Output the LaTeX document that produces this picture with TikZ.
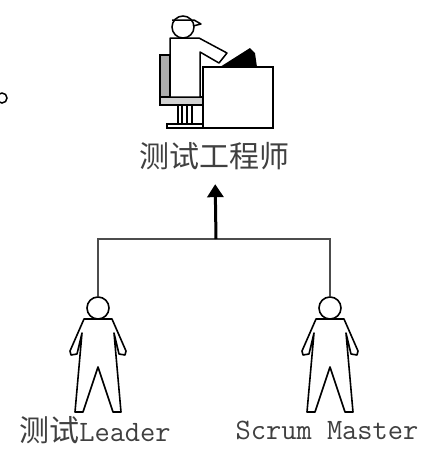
\documentclass[tikz,border=0pt]{standalone}
\usepackage{fontspec}
\usetikzlibrary{arrows.meta}
\newfontfamily\cjk{Noto Sans CJK SC}
\definecolor{chairgray}{rgb}{0.68,0.68,0.68}
\definecolor{seatgray}{rgb}{0.82,0.82,0.82}
\tikzset{
  head/.style={
    circle,
    draw,
    fill=white,
    inner sep=0pt,
    minimum size=11pt,
    line width=.8pt
  },
  outline/.style={
    line width=.8pt,
    line join=round,
    fill=white
  },
  furniture/.style={
    line width=.75pt,
    fill=white
  },
  label/.style={
    inner sep=0pt,
    text=black!75,
    font=\fontsize{15}{18}\selectfont
  },
  link/.style={
    line width=1pt,
    black!70
  },
  arrow/.style={
    -{Triangle[length=6.5pt,width=8pt]},
    line width=1.5pt,
    shorten >=7pt
  },
  person/.pic={
    \draw[outline] (-14,11) -- (-28,43) -- (-27,47) -- (-21,46) -- (-16,25)
      -- (-23,104) -- (-15,104) -- (0,59) -- (15,104) -- (23,104) -- (16,25)
      -- (21,46) -- (27,47) -- (28,43) -- (14,11) -- cycle;
    \node[head] (-head) at (0,0) {};
  }
}

\begin{document}
\begin{tikzpicture}[x=.5pt,y=-.5pt]
\useasboundingbox (0,0) rectangle (423,451);
\draw[line width=.75pt] (2,98) circle (5);

% tester at the desk
\draw[furniture,fill=chairgray] (160,55) rectangle (170,97);
\draw[furniture,fill=seatgray] (160,97) rectangle (206,105);
\draw[furniture] (178,105) rectangle (182,124) (187,105) rectangle (192,124);
\draw[furniture] (167,124) rectangle (206,128);
\draw[furniture,line join=round] (170,97) -- (170,38) -- (199,38) -- (227,53)
  -- (219,63) -- (200,52) -- (200,97) -- cycle;
\draw[furniture] (203,67) rectangle (273,128);
\fill (220,67) -- (250,48) -- (255,53) -- (257,67) -- cycle;
\draw[furniture] (183,27) circle (11);
\draw[furniture,fill=none,line join=round] (172,20) -- (194,20) -- (201,24) -- (193,26);
\node[label] (tester) at (215,156) {\cjk 测试工程师};

% the two roles below
\pic (leader) at (98,308) {person};
\pic (scrum) at (330,308) {person};
\node[label] (leadername) at (95,430) {\cjk 测试\ttfamily\fontsize{14.8}{18}\selectfont Leader};
\node[label] (scrumname) at (327,430) {\ttfamily\fontsize{14.8}{18}\selectfont Scrum Master};

\coordinate (hub) at (216,239);
\draw[link] (leader-head.north) |- (hub) -| (scrum-head.north);
\draw[arrow] (hub) -- (tester.south);
\end{tikzpicture}
\end{document}
